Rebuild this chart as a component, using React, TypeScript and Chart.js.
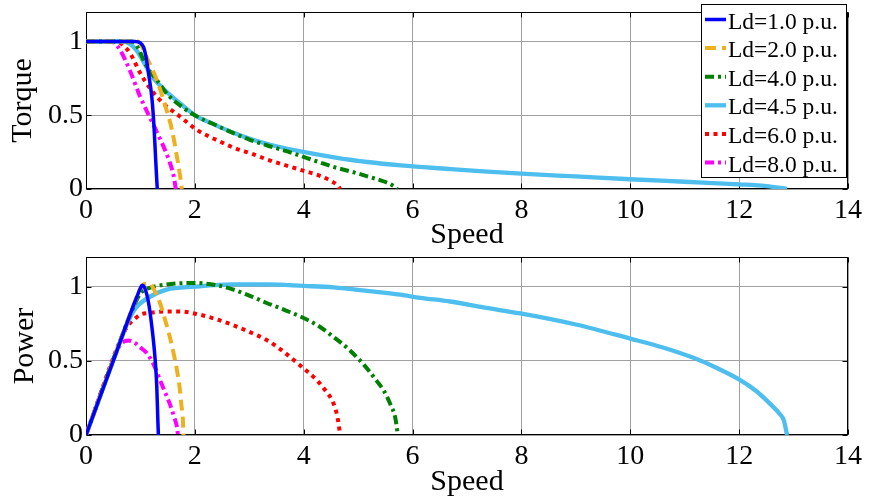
import React, { useEffect, useRef } from "react";
import { Chart, registerables } from "chart.js";

Chart.register(...registerables);

const FONT = '"Liberation Serif", "Times New Roman", Times, serif';

// ---------- data ----------
const legendLabels = ["Ld=1.0 p.u.", "Ld=2.0 p.u.", "Ld=4.0 p.u.", "Ld=4.5 p.u.", "Ld=6.0 p.u.", "Ld=8.0 p.u."];
const xTicks = [0, 2, 4, 6, 8, 10, 12, 14];
const yTicks = [0, 0.5, 1];

// Torque (top)
const ld1TorqueSpeed = [0, 0.9, 1.0, 1.06, 1.1, 1.15, 1.21, 1.25, 1.28, 1.3, 1.31];
const ld1Torque = [1, 1, 0.99, 0.96, 0.9, 0.78, 0.62, 0.42, 0.2, 0.06, 0];

const ld2TorqueSpeed = [0, 0.95, 1.0, 1.12, 1.3, 1.46, 1.58, 1.67, 1.73, 1.76];
const ld2Torque = [1, 1, 0.985, 0.89, 0.74, 0.56, 0.4, 0.22, 0.085, 0];

const ld4TorqueSpeed = [0, 0.85, 0.95, 1.05, 1.15, 1.3, 1.5, 1.75, 2.0, 2.4, 2.7, 3.0, 3.33, 3.7, 3.94, 4.3, 4.56, 4.9, 5.17, 5.4, 5.55, 5.65, 5.72];
const ld4Torque = [1, 1, 0.96, 0.88, 0.81, 0.74, 0.64, 0.56, 0.5, 0.43, 0.38, 0.335, 0.295, 0.255, 0.225, 0.18, 0.148, 0.115, 0.086, 0.06, 0.04, 0.02, 0];

const ld45TorqueSpeed = [0, 0.7, 0.8, 0.93, 1.06, 1.2, 1.42, 1.73, 2.0, 2.34, 2.65, 3.14, 3.5, 3.94, 4.56, 5.17, 5.78, 6.7, 7.3, 8.0, 9.0, 10.0, 11.0, 12.0, 12.5, 12.88];
const ld45Torque = [1, 1, 0.985, 0.94, 0.86, 0.77, 0.68, 0.58, 0.5, 0.44, 0.39, 0.325, 0.29, 0.255, 0.215, 0.183, 0.16, 0.135, 0.12, 0.104, 0.085, 0.066, 0.049, 0.032, 0.02, 0];

const ld6TorqueSpeed = [0, 0.55, 0.63, 0.81, 0.99, 1.18, 1.42, 1.73, 2.04, 2.47, 2.71, 3.08, 3.33, 3.94, 4.31, 4.5, 4.62, 4.67];
const ld6Torque = [1, 1, 0.99, 0.92, 0.79, 0.68, 0.58, 0.49, 0.4, 0.32, 0.28, 0.235, 0.2, 0.13, 0.088, 0.055, 0.025, 0];

const ld8TorqueSpeed = [0, 0.45, 0.52, 0.63, 0.81, 0.99, 1.18, 1.36, 1.52, 1.61, 1.65];
const ld8Torque = [1, 1, 0.99, 0.94, 0.8, 0.63, 0.48, 0.34, 0.2, 0.09, 0];

// Power (bottom)
const ld1PowerSpeed = [0, 0.5, 0.9, 1.0, 1.03, 1.08, 1.15, 1.21, 1.27, 1.3, 1.32, 1.33];
const ld1Power = [0, 0.5, 0.9, 0.99, 1.01, 0.99, 0.89, 0.73, 0.51, 0.33, 0.1, 0];

const ld2PowerSpeed = [0, 0.9, 1.0, 1.1, 1.17, 1.25, 1.36, 1.45, 1.54, 1.61, 1.67, 1.72, 1.75, 1.78, 1.79];
const ld2Power = [0, 0.9, 0.99, 1.02, 1.02, 0.98, 0.89, 0.78, 0.66, 0.55, 0.44, 0.32, 0.21, 0.1, 0];

const ld4PowerSpeed = [0, 0.8, 0.9, 1.0, 1.2, 1.48, 2.0, 2.4, 2.71, 3.0, 3.32, 3.6, 3.93, 4.25, 4.55, 4.85, 5.16, 5.35, 5.47, 5.6, 5.68, 5.73];
const ld4Power = [0, 0.8, 0.885, 0.955, 0.995, 1.015, 1.025, 1.01, 0.98, 0.94, 0.89, 0.85, 0.8, 0.74, 0.66, 0.57, 0.45, 0.36, 0.3, 0.2, 0.12, 0];

const ld45PowerSpeed = [0, 0.65, 0.75, 0.9, 1.12, 1.48, 2.0, 2.7, 3.32, 4.0, 4.55, 5.2, 5.77, 6.14, 6.69, 7.3, 7.98, 9.0, 10.0, 10.6, 11.16, 11.6, 12.02, 12.3, 12.57, 12.75, 12.82, 12.88];
const ld45Power = [0, 0.65, 0.745, 0.85, 0.92, 0.98, 1.0, 1.015, 1.015, 1.005, 0.995, 0.97, 0.946, 0.925, 0.9, 0.86, 0.82, 0.745, 0.65, 0.59, 0.52, 0.45, 0.37, 0.3, 0.21, 0.14, 0.1, 0];

const ld6PowerSpeed = [0, 0.68, 0.8, 0.9, 0.99, 1.2, 1.48, 1.73, 2.1, 2.4, 2.71, 3.0, 3.32, 3.6, 3.93, 4.24, 4.4, 4.55, 4.62, 4.67];
const ld6Power = [0, 0.68, 0.75, 0.785, 0.81, 0.825, 0.833, 0.833, 0.81, 0.78, 0.74, 0.695, 0.64, 0.57, 0.47, 0.37, 0.3, 0.21, 0.12, 0];

const ld8PowerSpeed = [0, 0.55, 0.63, 0.7, 0.78, 0.9, 1.0, 1.12, 1.25, 1.36, 1.45, 1.54, 1.62, 1.67, 1.69];
const ld8Power = [0, 0.55, 0.61, 0.63, 0.637, 0.62, 0.59, 0.55, 0.47, 0.37, 0.29, 0.21, 0.12, 0.056, 0];

// ---------- styles ----------
const seriesStyles = [
  { color: "#0000ff", dash: [] as number[], width: 3.5 },
  { color: "#edb120", dash: [11, 6], width: 4 },
  { color: "#008000", dash: [9, 4, 3, 4], width: 4 },
  { color: "#4dbeee", dash: [] as number[], width: 4.3 },
  { color: "#ff0000", dash: [4, 4.5], width: 4 },
  { color: "#ff00ff", dash: [9, 4, 3, 4], width: 4 },
];

const torqueSeries = [
  [ld1TorqueSpeed, ld1Torque],
  [ld2TorqueSpeed, ld2Torque],
  [ld4TorqueSpeed, ld4Torque],
  [ld45TorqueSpeed, ld45Torque],
  [ld6TorqueSpeed, ld6Torque],
  [ld8TorqueSpeed, ld8Torque],
];
const powerSeries = [
  [ld1PowerSpeed, ld1Power],
  [ld2PowerSpeed, ld2Power],
  [ld4PowerSpeed, ld4Power],
  [ld45PowerSpeed, ld45Power],
  [ld6PowerSpeed, ld6Power],
  [ld8PowerSpeed, ld8Power],
];

function buildDatasets(series: number[][][]) {
  return series.map(([xs, ys], i) => ({
    label: legendLabels[i],
    data: xs.map((x, k) => ({ x, y: ys[k] })),
    borderColor: seriesStyles[i].color,
    backgroundColor: seriesStyles[i].color,
    borderDash: seriesStyles[i].dash,
    borderWidth: seriesStyles[i].width,
    pointRadius: 0,
    fill: false,
    cubicInterpolationMode: "monotone" as const,
  }));
}

const framePlugin = {
  id: "frame",
  beforeDatasetsDraw(chart: any) {
    const { ctx, chartArea: a, scales } = chart;
    ctx.save();
    ctx.strokeStyle = "#000";
    ctx.lineWidth = 1;
    const l = Math.round(a.left) + 0.5, r = Math.round(a.right) - 0.5;
    const t = Math.round(a.top) + 0.5, b = Math.round(a.bottom) - 0.5;
    ctx.strokeRect(l, t, r - l, b - t);
    const len = 5;
    ctx.beginPath();
    xTicks.forEach((v) => {
      const px = Math.round(scales.x.getPixelForValue(v)) + 0.5;
      ctx.moveTo(px, b); ctx.lineTo(px, b - len);
      ctx.moveTo(px, t); ctx.lineTo(px, t + len);
    });
    yTicks.forEach((v) => {
      const py = Math.round(scales.y.getPixelForValue(v)) + 0.5;
      ctx.moveTo(l, py); ctx.lineTo(l + len, py);
      ctx.moveTo(r, py); ctx.lineTo(r - len, py);
    });
    ctx.stroke();
    ctx.restore();
  },
};

const legendPlugin = {
  id: "boxLegend",
  afterDraw(chart: any, _args: any, opts: any) {
    if (!opts || !opts.show) return;
    const { ctx } = chart;
    const ds = chart.data.datasets;
    const bx = 701.5, by = 4.5, bw = 145, bh = 173;
    ctx.save();
    ctx.fillStyle = "#fff";
    ctx.fillRect(bx, by, bw, bh);
    ctx.strokeStyle = "#000";
    ctx.lineWidth = 1;
    ctx.strokeRect(bx, by, bw, bh);
    ds.forEach((d: any, i: number) => {
      const ly = 19.5 + i * 28.6;
      ctx.beginPath();
      ctx.strokeStyle = d.borderColor;
      ctx.lineWidth = d.borderWidth;
      ctx.setLineDash(d.borderDash || []);
      ctx.moveTo(705, ly);
      ctx.lineTo(726, ly);
      ctx.stroke();
      ctx.setLineDash([]);
      ctx.fillStyle = "#000";
      ctx.font = `23.5px ${FONT}`;
      ctx.textBaseline = "alphabetic";
      ctx.textAlign = "left";
      ctx.fillText(d.label, 728, ly + 9);
    });
    ctx.restore();
  },
};

function makeConfig(series: number[][][], yTitle: string, padTop: number, xHeight: number, yTitlePad: number, showLegend: boolean): any {
  return {
    type: "line",
    data: { datasets: buildDatasets(series) },
    plugins: [framePlugin, legendPlugin],
    options: {
      responsive: false,
      animation: false,
      events: [],
      layout: { padding: { top: padTop, right: 21, left: 0, bottom: 0 } },
      plugins: {
        legend: { display: false },
        tooltip: { enabled: false },
        boxLegend: { show: showLegend },
      },
      scales: {
        x: {
          type: "linear",
          min: 0,
          max: 14,
          afterFit: (s: any) => { s.height = xHeight; s.paddingLeft = 0; s.paddingRight = 0; },
          afterBuildTicks: (s: any) => { s.ticks = xTicks.map((v) => ({ value: v })); },
          ticks: { font: { family: FONT, size: 28 }, color: "#000", padding: 5, maxRotation: 0, autoSkip: false },
          grid: { color: "#a0a0a0", lineWidth: 1, drawTicks: false },
          border: { display: false },
          title: { display: true, text: "Speed", font: { family: FONT, size: 30 }, color: "#000", padding: { top: 0, bottom: 3 } },
        },
        y: {
          type: "linear",
          min: 0,
          max: 1.2,
          afterFit: (s: any) => { s.width = 86; s.paddingTop = 0; s.paddingBottom = 0; },
          afterBuildTicks: (s: any) => { s.ticks = yTicks.map((v) => ({ value: v })); },
          ticks: { font: { family: FONT, size: 28 }, color: "#000", padding: 3, callback: (v: any) => String(v) },
          grid: { color: "#a0a0a0", lineWidth: 1, drawTicks: false },
          border: { display: false },
          title: { display: true, text: yTitle, font: { family: FONT, size: 30 }, color: "#000", padding: { top: yTitlePad, bottom: 0 } },
        },
      },
    },
  };
}

function ChartCanvas({ config, width, height, top }: { config: any; width: number; height: number; top: number }) {
  const ref = useRef<HTMLCanvasElement | null>(null);
  useEffect(() => {
    if (!ref.current) return;
    const chart = new Chart(ref.current, config);
    return () => chart.destroy();
  }, [config]);
  return (
    <canvas
      ref={ref}
      width={width}
      height={height}
      style={{ position: "absolute", left: 0, top, width, height, display: "block" }}
    />
  );
}

const topConfig = makeConfig(torqueSeries, "Torque", 12, 67, 5, true);
const bottomConfig = makeConfig(powerSeries, "Power", 7, 68, 7, false);

export default function App() {
  return (
    <div style={{ position: "absolute", left: 0, top: 0, width: 869, height: 503, background: "#fff", overflow: "hidden" }}>
      <ChartCanvas config={bottomConfig} width={869} height={253} top={250} />
      <ChartCanvas config={topConfig} width={869} height={256} top={0} />
    </div>
  );
}
